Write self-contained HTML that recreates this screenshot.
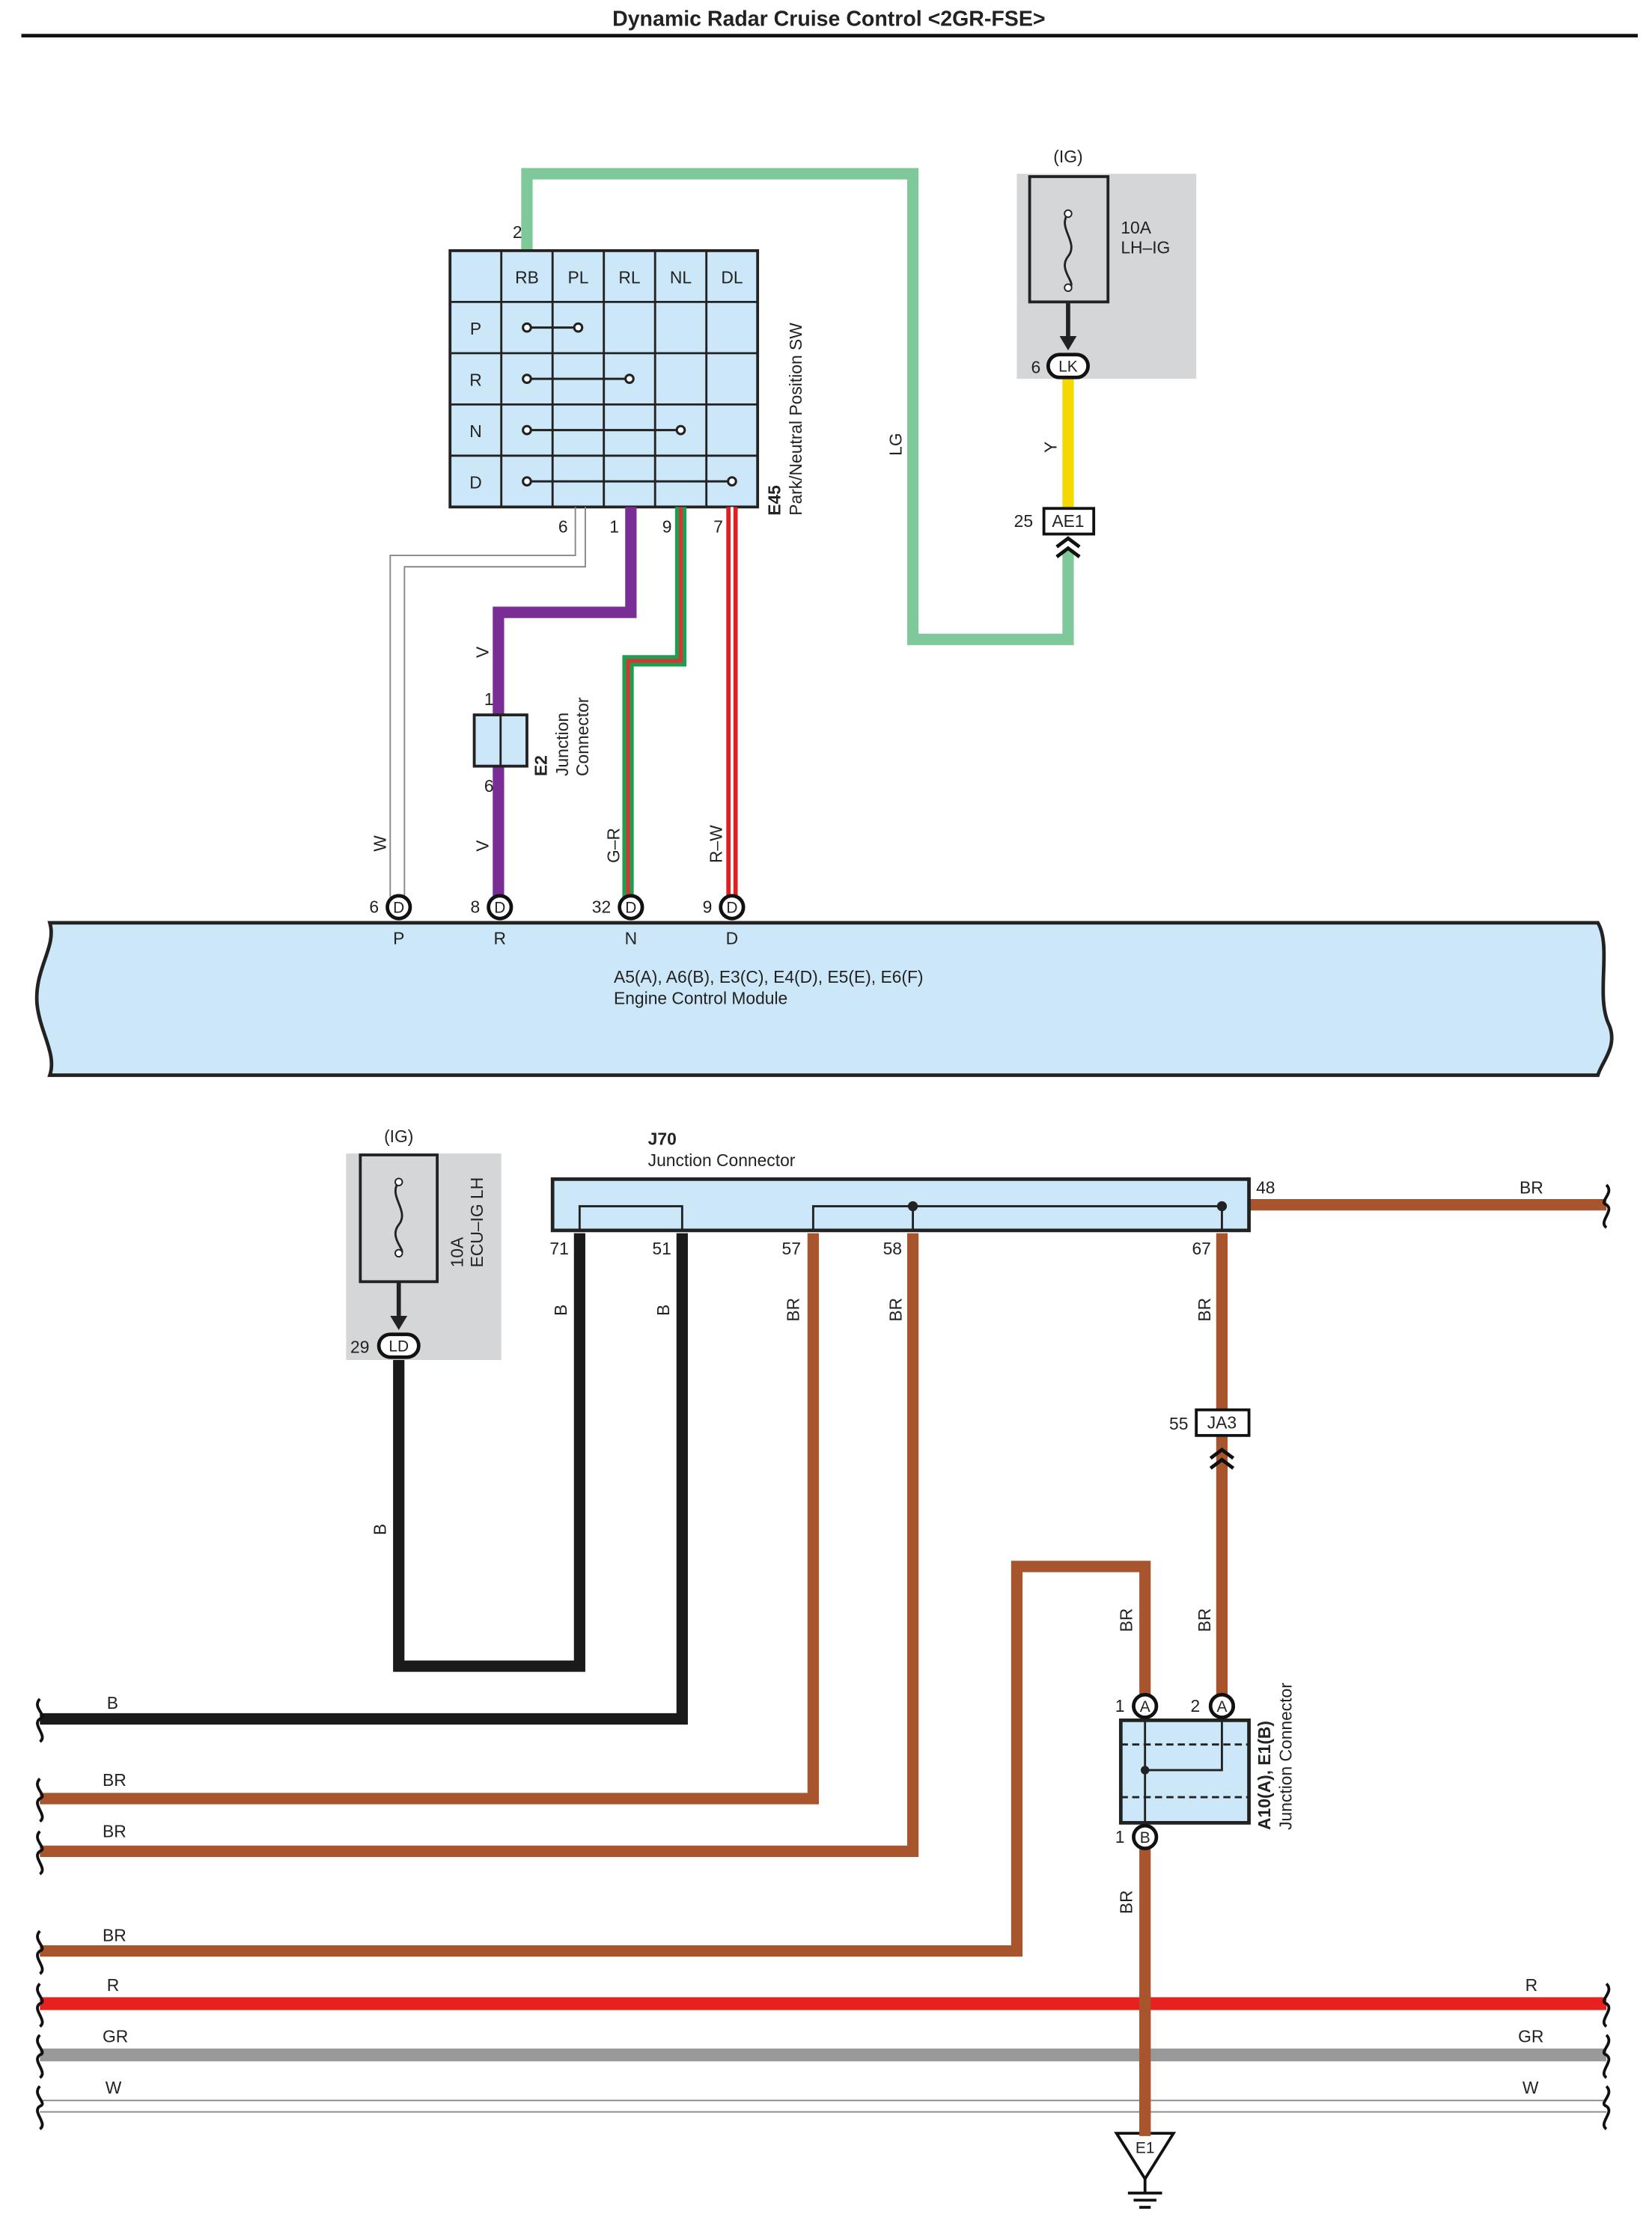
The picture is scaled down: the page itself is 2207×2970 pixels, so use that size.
<!DOCTYPE html>
<html><head><meta charset="utf-8"><style>
html,body{margin:0;padding:0;background:#fff}
svg{display:block}
text{font-family:"Liberation Sans",Arial,sans-serif;fill:#222}
</style></head><body>
<svg width="2207" height="2970" viewBox="0 0 1160 1561" xmlns="http://www.w3.org/2000/svg">
<rect width="1160" height="1561" fill="#fff"/>
<text x="582" y="18" font-size="15" font-weight="bold" text-anchor="middle">Dynamic Radar Cruise Control &lt;2GR-FSE&gt;</text>
<line x1="15" y1="25" x2="1150" y2="25" stroke="#111" stroke-width="2.5"/>

<!-- LG wire -->
<polyline points="370,176 370,122 641,122 641,449 750,449 750,386" fill="none" stroke="#7ec89a" stroke-width="8"/>
<text x="360" y="167" font-size="12">2</text>

<!-- switch table -->
<rect x="316" y="176" width="216" height="180" fill="#cce8f8" stroke="#222" stroke-width="2"/>
<g stroke="#222" stroke-width="1.5">
<line x1="352" y1="176" x2="352" y2="356"/><line x1="388" y1="176" x2="388" y2="356"/>
<line x1="424" y1="176" x2="424" y2="356"/><line x1="460" y1="176" x2="460" y2="356"/>
<line x1="496" y1="176" x2="496" y2="356"/>
<line x1="316" y1="212" x2="532" y2="212"/><line x1="316" y1="248" x2="532" y2="248"/>
<line x1="316" y1="284" x2="532" y2="284"/><line x1="316" y1="320" x2="532" y2="320"/>
</g>
<g font-size="12" text-anchor="middle">
<text x="370" y="199">RB</text><text x="406" y="199">PL</text><text x="442" y="199">RL</text><text x="478" y="199">NL</text><text x="514" y="199">DL</text>
<text x="334" y="235">P</text><text x="334" y="271">R</text><text x="334" y="307">N</text><text x="334" y="343">D</text>
</g>
<g stroke="#222" stroke-width="1.6" fill="#fff">
<line x1="370" y1="230" x2="406" y2="230"/><circle cx="370" cy="230" r="2.8"/><circle cx="406" cy="230" r="2.8"/>
<line x1="370" y1="266" x2="442" y2="266"/><circle cx="370" cy="266" r="2.8"/><circle cx="442" cy="266" r="2.8"/>
<line x1="370" y1="302" x2="478" y2="302"/><circle cx="370" cy="302" r="2.8"/><circle cx="478" cy="302" r="2.8"/>
<line x1="370" y1="338" x2="514" y2="338"/><circle cx="370" cy="338" r="2.8"/><circle cx="514" cy="338" r="2.8"/>
</g>
<text transform="translate(548,362) rotate(-90)" font-size="12" font-weight="bold">E45</text>
<text transform="translate(563,362) rotate(-90)" font-size="12">Park/Neutral Position SW</text>
<g font-size="12"><text x="392" y="374">6</text><text x="428" y="374">1</text><text x="465" y="374">9</text><text x="501" y="374">7</text></g>

<!-- W wire -->
<polyline points="404,356 404,390 274,390 274,630" fill="none" stroke="#888" stroke-width="1"/>
<polyline points="411,356 411,398 284,398 284,630" fill="none" stroke="#888" stroke-width="1"/>
<!-- V wire -->
<polyline points="443,356 443,430 350,430 350,630" fill="none" stroke="#7b2d96" stroke-width="8"/>
<rect x="333" y="502" width="37" height="36" fill="#cce8f8" stroke="#222" stroke-width="2"/>
<line x1="351.5" y1="502" x2="351.5" y2="538" stroke="#222" stroke-width="1.5"/>
<text x="340" y="495" font-size="12">1</text><text x="340" y="556" font-size="12">6</text>
<text transform="translate(384,545) rotate(-90)" font-size="12" font-weight="bold">E2</text>
<text transform="translate(399,545) rotate(-90)" font-size="12">Junction</text>
<text transform="translate(413,545) rotate(-90)" font-size="12">Connector</text>
<!-- G-R wire -->
<polyline points="478,356 478,464 441,464 441,630" fill="none" stroke="#1aa050" stroke-width="8"/>
<polyline points="478,356 478,464 441,464 441,630" fill="none" stroke="#e03030" stroke-width="2.5"/>
<!-- R-W wire -->
<line x1="514" y1="356" x2="514" y2="630" stroke="#e02020" stroke-width="8"/>
<line x1="514" y1="356" x2="514" y2="630" stroke="#fff" stroke-width="2"/>

<g font-size="12">
<text transform="translate(343,462) rotate(-90)">V</text>
<text transform="translate(343,598) rotate(-90)">V</text>
<text transform="translate(271,598) rotate(-90)">W</text>
<text transform="translate(435,606) rotate(-90)">G–R</text>
<text transform="translate(507,606) rotate(-90)">R–W</text>
<text transform="translate(633,320) rotate(-90)">LG</text>
<text transform="translate(742,318) rotate(-90)">Y</text>
</g>

<!-- ECM -->
<path d="M35,648 L1122,648 C1132,665 1120,700 1130,720 C1136,735 1125,745 1122,755 L35,755 C40,740 28,725 26,705 C24,680 40,665 35,648 Z" fill="#cce8f8" stroke="#222" stroke-width="2.5"/>
<text x="431" y="690" font-size="12">A5(A), A6(B), E3(C), E4(D), E5(E), E6(F)</text>
<text x="431" y="705" font-size="12">Engine Control Module</text>
<g stroke="#111" stroke-width="2.5" fill="#fff">
<circle cx="280" cy="637" r="8"/><circle cx="351" cy="637" r="8"/><circle cx="443" cy="637" r="8"/><circle cx="514" cy="637" r="8"/>
</g>
<g font-size="11" text-anchor="middle"><text x="280" y="641">D</text><text x="351" y="641">D</text><text x="443" y="641">D</text><text x="514" y="641">D</text></g>
<g font-size="12" text-anchor="end"><text x="266" y="641">6</text><text x="337" y="641">8</text><text x="429" y="641">32</text><text x="500" y="641">9</text></g>
<g font-size="12" text-anchor="middle"><text x="280" y="663">P</text><text x="351" y="663">R</text><text x="443" y="663">N</text><text x="514" y="663">D</text></g>

<!-- top fuse -->
<rect x="714" y="122" width="126" height="144" fill="#d4d6d8"/>
<text x="750" y="114" font-size="12" text-anchor="middle">(IG)</text>
<rect x="723" y="124" width="55" height="88" fill="none" stroke="#222" stroke-width="2"/>
<path d="M750,150 c-8,10 8,20 0,30 c-8,10 8,20 0,22" fill="none" stroke="#222" stroke-width="1.5"/>
<circle cx="750" cy="150" r="2.5" fill="#fff" stroke="#222"/><circle cx="750" cy="202" r="2.5" fill="#fff" stroke="#222"/>
<line x1="750" y1="212" x2="750" y2="240" stroke="#222" stroke-width="3"/>
<path d="M744,236 L750,246 L756,236 Z" fill="#222"/>
<text x="787" y="164" font-size="12">10A</text><text x="787" y="178" font-size="12">LH–IG</text>
<line x1="750" y1="266" x2="750" y2="357" stroke="#f5d800" stroke-width="8"/>
<rect x="736" y="249" width="28" height="16" rx="8" fill="#fff" stroke="#111" stroke-width="2.5"/>
<text x="750" y="261" font-size="11" text-anchor="middle">LK</text>
<text x="724" y="262" font-size="12">6</text>
<rect x="733" y="357" width="35" height="18" fill="#fff" stroke="#111" stroke-width="2"/>
<text x="750" y="370" font-size="12" text-anchor="middle">AE1</text>
<text x="712" y="370" font-size="12">25</text>
<path d="M742,384 L750,378 L758,384 M742,391 L750,385 L758,391" fill="none" stroke="#111" stroke-width="2.5"/>

<!-- bottom fuse -->
<rect x="243" y="810" width="109" height="145" fill="#d4d6d8"/>
<text x="280" y="802" font-size="12" text-anchor="middle">(IG)</text>
<rect x="253" y="811" width="54" height="89" fill="none" stroke="#222" stroke-width="2"/>
<path d="M280,830 c-8,10 8,20 0,30 c-8,10 8,20 0,20" fill="none" stroke="#222" stroke-width="1.5"/>
<circle cx="280" cy="830" r="2.5" fill="#fff" stroke="#222"/><circle cx="280" cy="880" r="2.5" fill="#fff" stroke="#222"/>
<line x1="280" y1="900" x2="280" y2="928" stroke="#222" stroke-width="3"/>
<path d="M274,924 L280,934 L286,924 Z" fill="#222"/>
<text transform="translate(325,890) rotate(-90)" font-size="12">10A</text>
<text transform="translate(339,890) rotate(-90)" font-size="12">ECU–IG LH</text>
<polyline points="280,955 280,1170 407,1170 407,866" fill="none" stroke="#1a1a1a" stroke-width="8"/>
<rect x="266" y="937" width="28" height="16" rx="8" fill="#fff" stroke="#111" stroke-width="2.5"/>
<text x="280" y="949" font-size="11" text-anchor="middle">LD</text>
<text x="246" y="950" font-size="12">29</text>

<!-- J70 -->
<text x="455" y="804" font-size="12" font-weight="bold">J70</text>
<text x="455" y="819" font-size="12">Junction Connector</text>
<polyline points="479,866 479,1207 28,1207" fill="none" stroke="#1a1a1a" stroke-width="8"/>
<polyline points="571,866 571,1263 28,1263" fill="none" stroke="#a8552e" stroke-width="8"/>
<polyline points="641,866 641,1300 28,1300" fill="none" stroke="#a8552e" stroke-width="8"/>
<line x1="877" y1="846" x2="1128" y2="846" stroke="#a8552e" stroke-width="8"/>
<line x1="858" y1="866" x2="858" y2="990" stroke="#a8552e" stroke-width="8"/>
<rect x="388" y="828" width="489" height="36" fill="#cce8f8" stroke="#222" stroke-width="2.5"/>
<polyline points="407,864 407,847 479,847 479,864" fill="none" stroke="#222" stroke-width="1.5"/>
<polyline points="571,864 571,847 858,847 858,864" fill="none" stroke="#222" stroke-width="1.5"/>
<line x1="641" y1="847" x2="641" y2="864" stroke="#222" stroke-width="1.5"/>
<circle cx="641" cy="847" r="3.5" fill="#222"/><circle cx="858" cy="847" r="3.5" fill="#222"/>
<g font-size="12"><text x="386" y="881">71</text><text x="458" y="881">51</text><text x="549" y="881">57</text><text x="620" y="881">58</text><text x="837" y="881">67</text><text x="882" y="838">48</text></g>

<!-- JA3 & A10 -->
<line x1="858" y1="1008" x2="858" y2="1190" stroke="#a8552e" stroke-width="8"/>
<rect x="840" y="990" width="37" height="18" fill="#fff" stroke="#111" stroke-width="2"/>
<text x="858" y="1003" font-size="12" text-anchor="middle">JA3</text>
<text x="821" y="1004" font-size="12">55</text>
<path d="M850,1024 L858,1018 L866,1024 M850,1031 L858,1025 L866,1031" fill="none" stroke="#111" stroke-width="2.5"/>
<polyline points="28,1370 714,1370 714,1100 804,1100 804,1190" fill="none" stroke="#a8552e" stroke-width="8"/>
<line x1="804" y1="1298" x2="804" y2="1500" stroke="#a8552e" stroke-width="8"/>
<rect x="787" y="1208" width="90" height="72" fill="#cce8f8" stroke="#222" stroke-width="2.5"/>
<line x1="787" y1="1225" x2="877" y2="1225" stroke="#222" stroke-width="1.5" stroke-dasharray="5,3"/>
<line x1="787" y1="1262" x2="877" y2="1262" stroke="#222" stroke-width="1.5" stroke-dasharray="5,3"/>
<polyline points="804,1208 804,1280" fill="none" stroke="#222" stroke-width="1.5"/>
<polyline points="858,1208 858,1243 804,1243" fill="none" stroke="#222" stroke-width="1.5"/>
<circle cx="804" cy="1243" r="3" fill="#222"/>
<g stroke="#111" stroke-width="2.5" fill="#fff"><circle cx="804" cy="1198" r="8"/><circle cx="858" cy="1198" r="8"/><circle cx="804" cy="1290" r="8"/></g>
<g font-size="11" text-anchor="middle"><text x="804" y="1202">A</text><text x="858" y="1202">A</text><text x="804" y="1294">B</text></g>
<g font-size="12"><text x="783" y="1202">1</text><text x="836" y="1202">2</text><text x="783" y="1294">1</text></g>
<text transform="translate(892,1285) rotate(-90)" font-size="12" font-weight="bold">A10(A), E1(B)</text>
<text transform="translate(907,1285) rotate(-90)" font-size="12">Junction Connector</text>

<!-- ground -->
<path d="M784,1498 L824,1498 L804,1530 Z" fill="#fff" stroke="#111" stroke-width="2"/>
<text x="804" y="1512" font-size="11" text-anchor="middle">E1</text>
<g stroke="#111" stroke-width="2"><line x1="804" y1="1530" x2="804" y2="1540"/><line x1="792" y1="1540" x2="816" y2="1540"/><line x1="796" y1="1545" x2="812" y2="1545"/><line x1="800" y1="1550" x2="808" y2="1550"/></g>

<!-- bus wires -->
<line x1="28" y1="1407" x2="1128" y2="1407" stroke="#e82020" stroke-width="9"/>
<line x1="28" y1="1443" x2="1128" y2="1443" stroke="#999" stroke-width="9"/>
<line x1="28" y1="1475" x2="1128" y2="1475" stroke="#888" stroke-width="1"/>
<line x1="28" y1="1483" x2="1128" y2="1483" stroke="#888" stroke-width="1"/>
<line x1="804" y1="1400" x2="804" y2="1500" stroke="#a8552e" stroke-width="8"/>

<!-- break marks -->
<g fill="none" stroke="#111" stroke-width="2">
<path d="M28,1193 c-6,6 6,12 0,14 c-6,4 6,12 0,16"/>
<path d="M28,1249 c-6,6 6,12 0,14 c-6,4 6,12 0,16"/>
<path d="M28,1286 c-6,6 6,12 0,14 c-6,4 6,12 0,16"/>
<path d="M28,1356 c-6,6 6,12 0,14 c-6,4 6,12 0,16"/>
<path d="M28,1393 c-6,6 6,12 0,14 c-6,4 6,12 0,16"/>
<path d="M28,1429 c-6,6 6,12 0,14 c-6,4 6,12 0,16"/>
<path d="M28,1465 c-6,6 6,12 0,14 c-6,4 6,12 0,16"/>
<path d="M1128,832 c6,6 -6,12 0,14 c6,4 -6,12 0,16"/>
<path d="M1128,1393 c6,6 -6,12 0,14 c6,4 -6,12 0,16"/>
<path d="M1128,1429 c6,6 -6,12 0,14 c6,4 -6,12 0,16"/>
<path d="M1128,1465 c6,6 -6,12 0,14 c6,4 -6,12 0,16"/>
</g>

<g font-size="12">
<text x="75" y="1200">B</text><text x="72" y="1254">BR</text><text x="72" y="1290">BR</text><text x="72" y="1363">BR</text>
<text x="75" y="1398">R</text><text x="72" y="1434">GR</text><text x="74" y="1470">W</text>
<text x="1071" y="1398">R</text><text x="1066" y="1434">GR</text><text x="1069" y="1470">W</text>
<text x="1067" y="838">BR</text>
<text transform="translate(398,924) rotate(-90)">B</text>
<text transform="translate(470,924) rotate(-90)">B</text>
<text transform="translate(561,928) rotate(-90)">BR</text>
<text transform="translate(633,928) rotate(-90)">BR</text>
<text transform="translate(850,928) rotate(-90)">BR</text>
<text transform="translate(271,1078) rotate(-90)">B</text>
<text transform="translate(795,1146) rotate(-90)">BR</text>
<text transform="translate(850,1146) rotate(-90)">BR</text>
<text transform="translate(795,1344) rotate(-90)">BR</text>
</g>
</svg>
</body></html>
